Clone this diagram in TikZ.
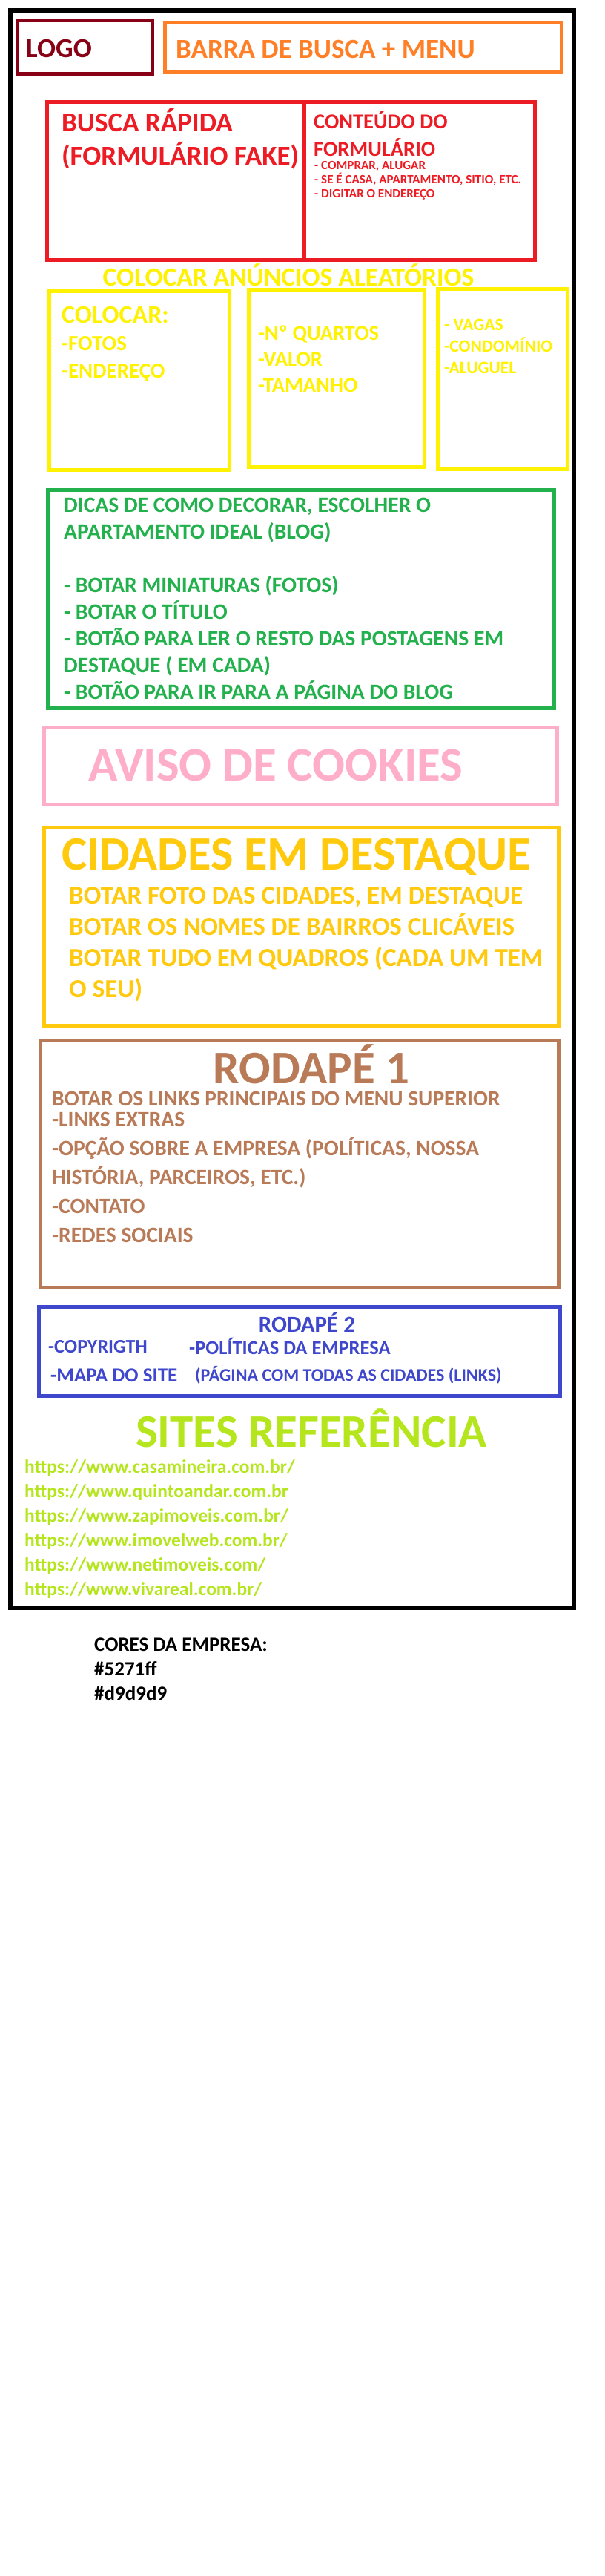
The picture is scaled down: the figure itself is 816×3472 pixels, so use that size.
\documentclass[tikz,border=0pt]{standalone}
\usepackage{fontspec}
\setmainfont{Carlito}
\usepackage{tikz}
\usetikzlibrary{positioning}
\definecolor{cLogo}  {HTML}{880015}
\definecolor{cMenu}  {HTML}{FF7F27}
\definecolor{cBusca} {HTML}{ED1C24}
\definecolor{cAnun}  {HTML}{FFF200}
\definecolor{cBlog}  {HTML}{22B14C}
\definecolor{cCook}  {HTML}{FFAEC9}
\definecolor{cCid}   {HTML}{FFC90E}
\definecolor{cRod}   {HTML}{B97A57}
\definecolor{cRodB}  {HTML}{3F48CC}
\definecolor{cRef}   {HTML}{B5E61D}
\newcommand\fsz[2]{\fontsize{#1}{#2}\selectfont\bfseries}
\tikzset{
  wbox/.style={draw=#1,line width=5pt,inner sep=0pt,outer sep=0pt,anchor=north west},
  txt/.style={text=#1,inner sep=0pt,anchor=base west,align=left},
  ttl/.style={text=#1,inner sep=0pt,anchor=base},
}
\begin{document}
\begin{tikzpicture}[x=1pt,y=-1pt]
  \useasboundingbox (0,0) rectangle (816,3472);
  \fill[white] (0,0) rectangle (816,3472);
  % pagina
  \node[wbox=black,line width=6pt,minimum width=760pt,minimum height=2153pt] (pag) at (14,14) {};
  % topo
  \node[wbox=cLogo,minimum width=182pt,minimum height=72pt] (logo) at (23.5,27.5) {};
  \node[txt=cLogo,font=\fsz{37}{37}] (logot) at (35,77) {LOGO};
  \node[wbox=cMenu,minimum width=535pt,minimum height=67pt] (menu) at (222.5,30.5) {};
  \node[txt=cMenu,font=\fsz{37}{37}] (menut) at (237,78) {BARRA DE BUSCA + MENU};
  % busca (base = ultima linha)
  \node[wbox=cBusca,minimum width=346.5pt,minimum height=213pt] (busca) at (63.5,137.5) {};
  \node[wbox=cBusca,minimum width=311.5pt,minimum height=213pt] (form) at (busca.north east) {};
  \node[txt=cBusca,font=\fsz{37}{45}] (buscat) at (83,222) {BUSCA RÁPIDA\\(FORMULÁRIO FAKE)};
  \node[txt=cBusca,font=\fsz{28.5}{37}] (formt) at (423,210) {CONTEÚDO DO\\FORMULÁRIO};
  \node[txt=cBusca,font=\fsz{17}{19}] (forml) at (424,266)
       {- COMPRAR, ALUGAR\\- SE É CASA, APARTAMENTO, SITIO, ETC.\\- DIGITAR O ENDEREÇO};
  % anuncios
  \node[ttl=cAnun,font=\fsz{35.5}{35}] (anunt) at (389,385) {COLOCAR ANÚNCIOS ALEATÓRIOS};
  \node[wbox=cAnun,minimum width=243pt,minimum height=241pt] (an1) at (66.5,392.5) {};
  \node[wbox=cAnun,minimum width=237pt,minimum height=239pt] (an2) at (335.5,390.5) {};
  \node[wbox=cAnun,minimum width=175pt,minimum height=243pt] (an3) at (590.5,389.5) {};
  \node[txt=cAnun,font=\fsz{29}{37}] (an1t) at (83,509) {{\fsz{34}{37}COLOCAR:}\\-FOTOS\\-ENDEREÇO};
  \node[txt=cAnun,font=\fsz{28.5}{35}] (an2t) at (348,528) {-Nº QUARTOS\\-VALOR\\-TAMANHO};
  \node[txt=cAnun,font=\fsz{23.5}{29}] (an3t) at (599,503) {- VAGAS\\-CONDOMÍNIO\\-ALUGUEL};
  % blog
  \node[wbox=cBlog,minimum width=683pt,minimum height=294pt] (blog) at (64.5,660.5) {};
  \node[txt=cBlog,font=\fsz{29.6}{36}] (blogt) at (86,942)
       {DICAS DE COMO DECORAR, ESCOLHER O\\APARTAMENTO IDEAL (BLOG)\\[36pt]
        - BOTAR MINIATURAS (FOTOS)\\- BOTAR O TÍTULO\\- BOTÃO PARA LER O RESTO DAS POSTAGENS EM\\
        DESTAQUE ( EM CADA)\\- BOTÃO PARA IR PARA A PÁGINA DO BLOG};
  % cookies
  \node[wbox=cCook,minimum width=692pt,minimum height=104pt] (cook) at (59.5,980.5) {};
  \node[txt=cCook,font=\fsz{65}{65}] (cookt) at (119,1052) {AVISO DE COOKIES};
  % cidades
  \node[wbox=cCid,minimum width=694pt,minimum height=267pt] (cid) at (59.5,1115.5) {};
  \node[txt=cCid,font=\fsz{64.5}{63}] (cidt) at (83,1172) {CIDADES EM DESTAQUE};
  \node[txt=cCid,font=\fsz{35}{42}] (cidl) at (93,1344)
       {BOTAR FOTO DAS CIDADES, EM DESTAQUE\\BOTAR OS NOMES DE BAIRROS CLICÁVEIS\\
        BOTAR TUDO EM QUADROS (CADA UM TEM\\O SEU)};
  % rodape 1
  \node[wbox=cRod,minimum width=699pt,minimum height=333pt] (rod) at (54.5,1402.5) {};
  \node[ttl=cRod,font=\fsz{63}{63}] (rodt) at (420,1460) {RODAPÉ 1};
  \node[txt=cRod,font=\fsz{29.5}{39}] (rodm) at (70,1490) {BOTAR OS LINKS PRINCIPAIS DO MENU SUPERIOR};
  \node[txt=cRod,font=\fsz{29.5}{39}] (rodl) at (70,1674)
       {-LINKS EXTRAS\\-OPÇÃO SOBRE A EMPRESA (POLÍTICAS, NOSSA\\HISTÓRIA, PARCEIROS, ETC.)\\
        -CONTATO\\-REDES SOCIAIS};
  % rodape 2
  \node[wbox=cRodB,minimum width=703pt,minimum height=120pt] (rodb) at (52.5,1761.5) {};
  \node[ttl=cRodB,font=\fsz{31}{31}] (rodbt) at (414,1795) {RODAPÉ 2};
  \node[txt=cRodB,font=\fsz{26}{26}] (copy) at (65,1823) {-COPYRIGTH};
  \node[txt=cRodB,font=\fsz{26.5}{26}] (polit) at (255,1825) {-POLÍTICAS DA EMPRESA};
  \node[txt=cRodB,font=\fsz{27}{27}] (mapa) at (68,1862) {-MAPA DO SITE};
  \node[txt=cRodB,font=\fsz{24}{24}] (pagc) at (263,1861) {(PÁGINA COM TODAS AS CIDADES (LINKS)};
  % referencias
  \node[ttl=cRef,font=\fsz{63}{60}] (reft) at (420,1950) {SITES REFERÊNCIA};
  \node[txt=cRef,font=\fsz{25.5}{33}] (refl) at (33,2150)
       {https://www.casamineira.com.br/\\https://www.quintoandar.com.br\\
        https://www.zapimoveis.com.br/\\https://www.imovelweb.com.br/\\
        https://www.netimoveis.com/\\https://www.vivareal.com.br/};
  % cores
  \node[txt=black,font=\fsz{27}{33}] (cores) at (127,2291) {CORES DA EMPRESA:\\\#5271ff\\\#d9d9d9};
\end{tikzpicture}
\end{document}
